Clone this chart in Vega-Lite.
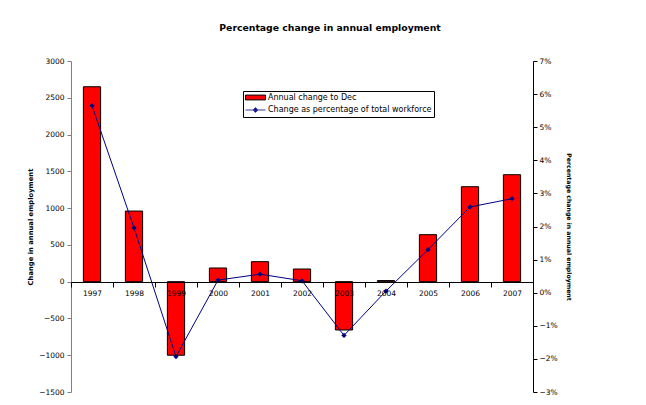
{
  "$schema": "https://vega.github.io/schema/vega-lite/v6.json",
  "width": 462,
  "height": 331,
  "autosize": {"type": "none"},
  "padding": {"left": 71, "top": 61, "right": 113, "bottom": 13},
  "background": "white",
  "config": {
    "font": "DejaVu Sans",
    "view": {"stroke": null},
    "axis": {"grid": false, "labelColor": "#000000", "titleColor": "#000000", "labelFontSize": 7.5, "labelFont": "DejaVu Sans"},
    "legend": {
      "title": null,
      "orient": "none",
      "legendX": 172,
      "legendY": 30,
      "strokeColor": "#000000",
      "fillColor": "#ffffff",
      "padding": 2,
      "labelFontSize": 8,
      "labelFont": "DejaVu Sans",
      "labelColor": "#000000",
      "labelOffset": 8,
      "symbolSize": 64,
      "symbolOffset": 6,
      "symbolStrokeWidth": 1,
      "rowPadding": 3.5,
      "labelLimit": 300
    }
  },
  "title": {
    "text": "Percentage change in annual employment",
    "font": "DejaVu Sans",
    "fontSize": 9.3,
    "fontWeight": "bold",
    "color": "#000000",
    "anchor": "middle",
    "frame": "group",
    "dx": 28,
    "offset": 24
  },
  "data": {
    "values": [
      {"year": "1997", "change": 2650, "pct": 0.0565},
      {"year": "1998", "change": 960, "pct": 0.0196},
      {"year": "1999", "change": -1000, "pct": -0.0193},
      {"year": "2000", "change": 186, "pct": 0.0038},
      {"year": "2001", "change": 272, "pct": 0.0056},
      {"year": "2002", "change": 172, "pct": 0.0036},
      {"year": "2003", "change": -657, "pct": -0.0129},
      {"year": "2004", "change": 15, "pct": 0.0005},
      {"year": "2005", "change": 639, "pct": 0.0130},
      {"year": "2006", "change": 1291, "pct": 0.0259},
      {"year": "2007", "change": 1454, "pct": 0.0284}
    ]
  },
  "encoding": {
    "x": {
      "field": "year",
      "type": "ordinal",
      "scale": {"paddingInner": 0, "paddingOuter": 0},
      "axis": {
        "title": null,
        "labelAngle": 0,
        "offset": -110,
        "tickBand": "extent",
        "tickSize": 5,
        "labelPadding": 2,
        "domainColor": "#000000",
        "tickColor": "#000000",
        "labelFontSize": 7.5,
        "zindex": 1
      }
    }
  },
  "layer": [
    {
      "mark": {"type": "bar", "fill": "#ff0000", "stroke": "#000000", "strokeWidth": 1, "width": {"band": 0.41}},
      "encoding": {
        "y": {
          "field": "change",
          "type": "quantitative",
          "scale": {"domain": [-1500, 3000], "nice": false, "zero": false},
          "axis": {
            "title": "Change in annual employment",
            "titleFontSize": 6.8,
            "titleFontWeight": "bold",
            "titlePadding": 5,
            "values": [-1500, -1000, -500, 0, 500, 1000, 1500, 2000, 2500, 3000],
            "format": "d",
            "domainColor": "#808080",
            "tickColor": "#808080",
            "tickSize": 4,
            "labelPadding": 3
          }
        }
      }
    },
    {
      "encoding": {
        "y": {
          "field": "pct",
          "type": "quantitative",
          "scale": {"domain": [-0.03, 0.07], "nice": false, "zero": false},
          "axis": {
            "orient": "right",
            "title": "Percentage change in annual employment",
            "titleFontSize": 6.2,
            "titleFontWeight": "bold",
            "titlePadding": 8,
            "format": ".0%",
            "values": [-0.03, -0.02, -0.01, 0, 0.01, 0.02, 0.03, 0.04, 0.05, 0.06, 0.07],
            "domainColor": "#000000",
            "tickColor": "#000000",
            "tickSize": 4,
            "labelPadding": 2
          }
        }
      },
      "layer": [
        {"mark": {"type": "line", "stroke": "#000080", "strokeWidth": 1}},
        {"mark": {"type": "point", "shape": "diamond", "filled": true, "fill": "#000080", "size": 28, "opacity": 1}}
      ]
    },
    {
      "transform": [{"filter": "false"}],
      "mark": {"type": "point", "filled": true, "opacity": 1},
      "encoding": {
        "fill": {
          "datum": "Annual change to Dec",
          "scale": {
            "domain": ["Annual change to Dec", "Change as percentage of total workforce"],
            "range": ["#ff0000", "#000080"]
          }
        },
        "stroke": {
          "datum": "Annual change to Dec",
          "scale": {
            "domain": ["Annual change to Dec", "Change as percentage of total workforce"],
            "range": ["#000000", "#3a3aa0"]
          }
        },
        "shape": {
          "datum": "Annual change to Dec",
          "scale": {
            "domain": ["Annual change to Dec", "Change as percentage of total workforce"],
            "range": ["M-2.5,-0.6H2.5V0.6H-2.5Z", "M-2.5,0H2.5M0,-0.6L0.6,0L0,0.6L-0.6,0Z"]
          }
        }
      }
    }
  ],
  "resolve": {"scale": {"y": "independent"}}
}
